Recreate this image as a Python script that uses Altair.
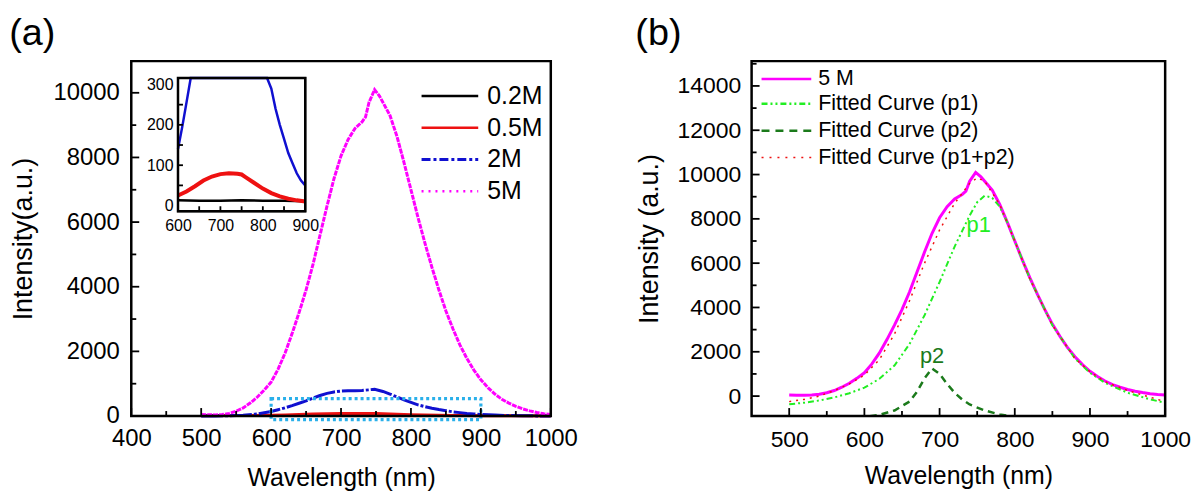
import altair as alt
import pandas as pd

FONT = "Liberation Sans"

# ---------------- panel (a) data ----------------
wl_5m = [500, 510, 520, 530, 540, 550, 560, 570, 580, 590, 600, 610, 620, 630, 640, 650, 660, 670, 680, 690,
         700, 710, 720, 730, 735, 740, 748, 755, 760, 770, 780, 790, 800, 810, 820, 830, 840, 850, 860, 870,
         880, 890, 900, 910, 920, 930, 940, 950, 960, 970, 980, 990, 1000]
int_5m = [50, 40, 35, 45, 80, 150, 250, 400, 580, 800, 1050, 1450, 1950, 2550, 3200, 3900, 4700, 5600, 6500, 7350,
          8050, 8550, 8900, 9100, 9250, 9700, 10100, 9900, 9700, 9300, 8650, 7850, 7000, 6150, 5350, 4600, 3900, 3250, 2700, 2200,
          1780, 1420, 1120, 880, 680, 520, 400, 300, 220, 160, 110, 70, 50]

wl_2m = [500, 520, 540, 560, 580, 600, 610, 620, 630, 640, 650, 660, 670, 680, 690, 700, 710, 720, 730, 740, 748,
         760, 770, 780, 790, 800, 810, 820, 830, 840, 850, 860, 870, 880, 890, 900, 920, 940, 960, 980, 1000]
int_2m = [0, 3, 10, 25, 60, 140, 195, 255, 320, 395, 470, 555, 635, 700, 745, 770, 780, 785, 790, 810, 830,
          760, 680, 590, 500, 420, 345, 290, 240, 200, 165, 130, 105, 80, 62, 50, 30, 15, 8, 4, 2]

wl_05m = [500, 550, 600, 620, 640, 660, 680, 700, 720, 740, 750, 760, 780, 800, 820, 840, 860, 880, 900, 950, 1000]
int_05m = [5, 12, 25, 35, 48, 62, 72, 78, 80, 79, 77, 70, 56, 42, 31, 23, 17, 13, 10, 6, 4]

wl_02m = [500, 550, 600, 650, 700, 750, 800, 850, 900, 950, 1000]
int_02m = [12, 12, 13, 12, 12, 13, 12, 12, 11, 11, 10]

legend_a_labels = ["0.2M", "0.5M", "2M", "5M"]
box_x = [600, 900]
box_y = [-110, 540]

xticks_a_major = [400, 500, 600, 700, 800, 900, 1000]
xticks_a_minor = [450, 550, 650, 750, 850, 950]
yticks_a_major = [0, 2000, 4000, 6000, 8000, 10000]
yticks_a_minor = [1000, 3000, 5000, 7000, 9000]

inset_xlabels = [600, 700, 800, 900]
inset_ylabels = [0, 100, 200, 300]
inset_xticks = [650, 700, 750, 800, 850]
inset_yticks = [50, 100, 150, 200, 250]

# ---------------- panel (b) data ----------------
wl_p1 = [500, 520, 540, 560, 580, 600, 620, 640, 660, 680, 700, 720, 740, 750, 760, 770, 780, 790, 800, 820,
         850, 880, 900, 920, 950, 980, 1000]
int_p1 = [-370, -300, -200, -60, 130, 380, 780, 1380, 2350, 3650, 5150, 6750, 8150, 8750, 9050, 8950, 8550, 7850, 7000, 5300,
          3200, 1700, 1050, 600, 150, -150, -300]

wl_p2 = [560, 580, 600, 620, 640, 660, 670, 680, 690, 700, 710, 720, 730, 740, 760, 780, 800, 820]
int_p2 = [-1100, -1000, -950, -850, -650, -250, 200, 800, 1250, 1000, 550, 150, -150, -380, -650, -830, -930, -1000]

wl_sum = [500, 520, 540, 560, 580, 600, 620, 640, 660, 680, 700, 720, 740, 750, 760, 780, 800, 820, 850, 880,
          900, 920, 950, 980, 1000]
int_sum = [-250, -150, 0, 250, 550, 950, 1650, 2800, 4300, 6000, 7500, 8700, 9600, 9850, 9700, 8650, 7000, 5300, 3200, 1700,
           1100, 650, 250, -50, -250]

legend_b_labels = ["5 M", "Fitted Curve (p1)", "Fitted Curve (p2)", "Fitted Curve (p1+p2)"]
peak_labels = ["p1", "p2"]
peak_x = [752, 690]
peak_y = [7700, 1800]

xticks_b_major = [500, 600, 700, 800, 900, 1000]
xticks_b_minor = [550, 650, 750, 850, 950]
yticks_b_major = [0, 2000, 4000, 6000, 8000, 10000, 12000, 14000]
yticks_b_minor = [1000, 3000, 5000, 7000, 9000, 11000, 13000, 15000]

# ---------------- styling ----------------
MAGENTA = "#ff00ff"
RED = "#ee1111"
BLUE = "#1010d0"
BLACK = "#000000"
LGREEN = "#22ee22"
DGREEN = "#1b7a1b"
CYAN = "#2ab0ea"

WA, HA = 422, 357
WB, HB = 416, 357

xs_a = alt.Scale(domain=[400, 1000], nice=False, zero=False)
ys_a = alt.Scale(domain=[0, 10980], nice=False, zero=False)
xs_in = alt.Scale(domain=[600, 900], range=[47, 175], nice=False, zero=False)
ys_in = alt.Scale(domain=[-14, 316], range=[151, 17], nice=False, zero=False, clamp=True)
xs_b = alt.Scale(domain=[450, 1000], nice=False, zero=False)
ys_b = alt.Scale(domain=[-900, 15120], nice=False, zero=False)

ax_a_x = alt.Axis(title="Wavelength (nm)", values=xticks_a_major, format="d", ticks=False, domain=False, grid=False,
                  labelFontSize=24, titleFontSize=25, labelPadding=11, titlePadding=15, labelFlush=False)
ax_a_y = alt.Axis(title="Intensity(a.u.)", values=yticks_a_major, format="d", ticks=False, domain=False, grid=False,
                  labelFontSize=24, titleFontSize=27, labelPadding=12, titlePadding=16)
ax_in_x = alt.Axis(title=None, orient="bottom", offset=-(HA - 151), values=inset_xlabels, format="d", ticks=False,
                   domain=False, grid=False, labelFontSize=16, labelPadding=6, labelFlush=False)
ax_in_y = alt.Axis(title=None, orient="left", offset=-47, values=inset_ylabels, format="d", ticks=False, domain=False,
                   grid=False, labelFontSize=16, labelPadding=5, labelFlush=False)
ax_b_x = alt.Axis(title="Wavelength (nm)", values=xticks_b_major, format="d", ticks=False, domain=False, grid=False,
                  labelFontSize=23, titleFontSize=25, labelPadding=13, titlePadding=12, labelFlush=False)
ax_b_y = alt.Axis(title="Intensity (a.u.)", values=yticks_b_major, format="d", ticks=False, domain=False, grid=False,
                  labelFontSize=23, titleFontSize=27, labelPadding=11, titlePadding=14)


def series(wl, vals):
    return pd.DataFrame({"wl": wl, "v": vals})


def line(wl, vals, xs, ys, xaxis, yaxis, color, width, dash=None, clip=False):
    kw = dict(color=color, strokeWidth=width, clip=clip)
    if dash:
        kw["strokeDash"] = dash
    return alt.Chart(series(wl, vals)).mark_line(**kw).encode(
        x=alt.X("wl:Q", scale=xs, axis=xaxis),
        y=alt.Y("v:Q", scale=ys, axis=yaxis),
    )


def xticks(vals, xs, xaxis, h, length):
    return alt.Chart(pd.DataFrame({"t": vals})).mark_rule(color="black", strokeWidth=1.8).encode(
        x=alt.X("t:Q", scale=xs, axis=xaxis), y=alt.value(h), y2=alt.value(h - length))


def yticks(vals, ys, yaxis, x0, length):
    return alt.Chart(pd.DataFrame({"t": vals})).mark_rule(color="black", strokeWidth=1.8).encode(
        y=alt.Y("t:Q", scale=ys, axis=yaxis), x=alt.value(x0), x2=alt.value(x0 + length))


def frame(x0, x1, y0, y1, width, fill=None):
    kw = dict(stroke="black", strokeWidth=width)
    if fill:
        kw["fill"] = fill
    else:
        kw["filled"] = False
    return alt.Chart(pd.DataFrame({"k": [0]})).mark_rect(**kw).encode(
        x=alt.value(x0), x2=alt.value(x1), y=alt.value(y0), y2=alt.value(y1))


def legend_entry(label, row_y, x0, x1, tx, color, width, dash, size):
    df = pd.DataFrame({"label": [label]})
    kw = dict(color=color, strokeWidth=width)
    if dash:
        kw["strokeDash"] = dash
    r = alt.Chart(df).mark_rule(**kw).encode(x=alt.value(x0), x2=alt.value(x1), y=alt.value(row_y))
    t = alt.Chart(df).mark_text(align="left", baseline="middle", fontSize=size, font=FONT, color="black").encode(
        x=alt.value(tx), y=alt.value(row_y), text="label:N")
    return [r, t]


# ---------------- panel (a) ----------------
box = alt.Chart(pd.DataFrame({"x1": [box_x[0]], "x2": [box_x[1]], "y1": [box_y[0]], "y2": [box_y[1]]})).mark_rect(
    filled=False, stroke=CYAN, strokeWidth=3.2, strokeDash=[3, 3]).encode(
    x=alt.X("x1:Q", scale=xs_a, axis=ax_a_x), x2="x2:Q",
    y=alt.Y("y1:Q", scale=ys_a, axis=ax_a_y), y2="y2:Q")

a_rows = [35, 67, 99, 131]
a_styles = [(BLACK, 2.5, None), (RED, 2.5, None), (BLUE, 3, [9, 3, 3, 3]), (MAGENTA, 2.5, [2, 5])]
legend_a = []
for lab, ry, (c, w, d) in zip(legend_a_labels, a_rows, a_styles):
    legend_a += legend_entry(lab, ry, 292, 349, 358, c, w, d, 25)

A = (xs_a, ys_a, ax_a_x, ax_a_y)
main_a = alt.layer(
    line(wl_02m, int_02m, *A, BLACK, 2.5),
    line(wl_05m, int_05m, *A, RED, 3),
    line(wl_2m, int_2m, *A, BLUE, 3, dash=[22, 2, 3, 2]),
    line(wl_5m, int_5m, *A, MAGENTA, 3, dash=[5, 1]),
    box,
    xticks(xticks_a_major, xs_a, ax_a_x, HA, 8),
    xticks(xticks_a_minor, xs_a, ax_a_x, HA, 5),
    yticks(yticks_a_major, ys_a, ax_a_y, 0, 8),
    yticks(yticks_a_minor, ys_a, ax_a_y, 0, 5),
    frame(0, WA, 0, HA, 2.5),
    frame(47, 175, 17, 151, 2, fill="white"),
    *legend_a,
)

in_filter = "datum.wl >= 600 && datum.wl <= 900"
I = (xs_in, ys_in, ax_in_x, ax_in_y)
inset = alt.layer(
    line(wl_02m, int_02m, *I, BLACK, 2.5).transform_filter(in_filter),
    line(wl_05m, int_05m, *I, RED, 4).transform_filter(in_filter),
    line(wl_2m, int_2m, *I, BLUE, 2.5).transform_filter(in_filter),
    xticks(inset_xticks, xs_in, ax_in_x, 151, 5),
    yticks(inset_yticks, ys_in, ax_in_y, 47, 5),
    frame(47, 175, 17, 151, 2.5),
)

panel_a = alt.layer(main_a, inset).resolve_scale(x="independent", y="independent").properties(
    width=WA, height=HA,
    title=alt.TitleParams("(a)", anchor="start", frame="bounds", fontSize=38, font=FONT, fontWeight="normal",
                          color="black", offset=7))

# ---------------- panel (b) ----------------
b_rows = [18, 43, 70, 97]
b_styles = [(MAGENTA, 2.5, None), (LGREEN, 2.5, [6, 3, 2, 3, 2, 3]), (DGREEN, 2.5, [8, 6]), (RED, 1.5, [2, 6])]
legend_b = []
for lab, ry, (c, w, d) in zip(legend_b_labels, b_rows, b_styles):
    legend_b += legend_entry(lab, ry, 10, 60, 67, c, w, d, 21.5)

peaks = alt.Chart(pd.DataFrame({"lab": peak_labels, "x": peak_x, "y": peak_y})).mark_text(
    fontSize=22, font=FONT, baseline="middle", align="center").encode(
    x=alt.X("x:Q", scale=xs_b, axis=ax_b_x), y=alt.Y("y:Q", scale=ys_b, axis=ax_b_y), text="lab:N",
    color=alt.Color("lab:N", scale=alt.Scale(domain=peak_labels, range=[LGREEN, DGREEN]), legend=None))

B = (xs_b, ys_b, ax_b_x, ax_b_y)
panel_b = alt.layer(
    line(wl_5m, int_5m, *B, MAGENTA, 3),
    line(wl_p1, int_p1, *B, LGREEN, 2, dash=[6, 3, 2, 3, 2, 3]),
    line(wl_p2, int_p2, *B, DGREEN, 2.5, dash=[7, 5], clip=True),
    line(wl_sum, int_sum, *B, RED, 1.5, dash=[2, 5]),
    peaks,
    xticks(xticks_b_major, xs_b, ax_b_x, HB, 8),
    xticks(xticks_b_minor, xs_b, ax_b_x, HB, 5),
    yticks(yticks_b_major, ys_b, ax_b_y, 0, 8),
    yticks(yticks_b_minor, ys_b, ax_b_y, 0, 5),
    frame(0, WB, 0, HB, 2.5),
    *legend_b,
).properties(
    width=WB, height=HB,
    title=alt.TitleParams("(b)", anchor="start", frame="bounds", fontSize=38, font=FONT, fontWeight="normal",
                          color="black", offset=7))

chart = alt.hconcat(panel_a, panel_b, spacing=56).properties(
    padding={"left": 0, "top": 5, "right": 0, "bottom": 0}, background="white"
).configure_view(stroke="transparent").configure_axis(
    labelFont=FONT, titleFont=FONT, labelColor="black", titleColor="black", titleFontWeight="normal"
)

chart.save("out.html", embed_options={"renderer": "svg", "actions": False})
